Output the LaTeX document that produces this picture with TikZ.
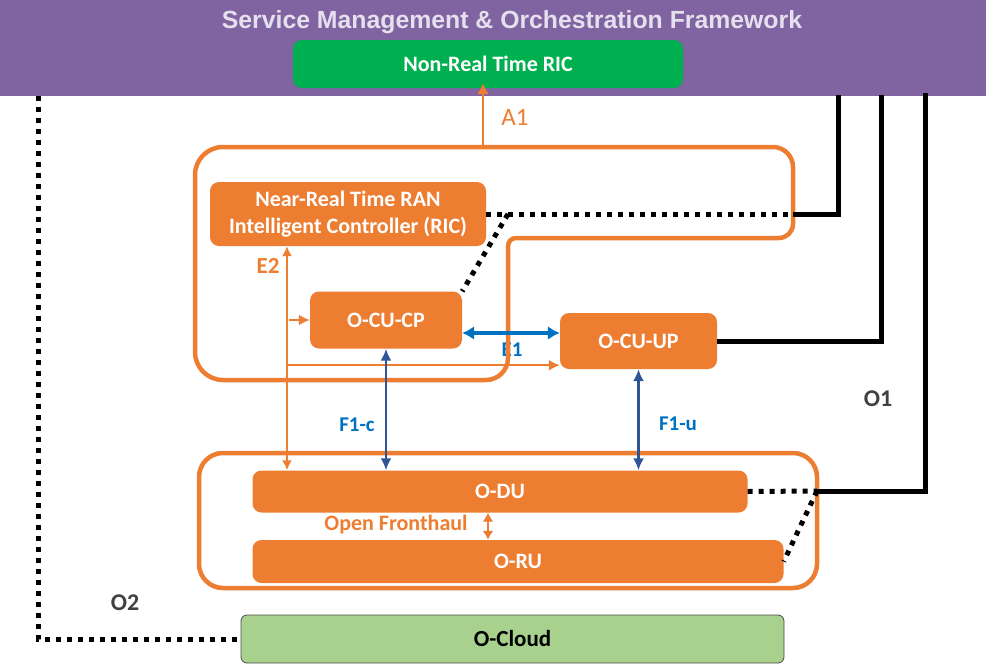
\documentclass[tikz,border=0pt]{standalone}
\usepackage{fontspec}
\setmainfont{Carlito}
\newfontfamily\titlefont{Liberation Sans}
\usetikzlibrary{arrows.meta,calc}

\definecolor{smopurple}{HTML}{8064A2}
\definecolor{titlelav}{HTML}{E6E0EE}
\definecolor{nrtgreen}{HTML}{00B050}
\definecolor{cloudgreen}{HTML}{A9D18E}
\definecolor{cloudedge}{HTML}{4A4A4A}
\definecolor{oran}{HTML}{ED7D31}
\definecolor{ifblue}{HTML}{0070C0}
\definecolor{fblue}{HTML}{2F5597}
\definecolor{ograytext}{HTML}{404040}

\begin{document}
\begin{tikzpicture}[x=1pt,y=-1pt,
  unit/.style={rounded corners=9pt, fill=oran, text=white, inner sep=0pt, align=center,
    font=\fontsize{22}{26.7}\selectfont\bfseries},
  group/.style={draw=oran, line width=4.5pt},
  olink/.style={draw=black, line width=5pt},
  odots/.style={draw=black, line width=5pt, dash pattern=on 5pt off 6pt},
  e2link/.style={draw=oran, line width=2.5pt, {Latex[length=10pt,width=10pt]}-{Latex[length=10pt,width=10pt]}},
  feed/.style={draw=oran, line width=2pt, -{Latex[length=11pt,width=11pt]}},
  e1link/.style={draw=ifblue, line width=4pt, {Latex[length=12pt,width=14pt]}-{Latex[length=12pt,width=14pt]}},
  f1link/.style={draw=fblue, line width=2.5pt, {Latex[length=12pt,width=11pt]}-{Latex[length=12pt,width=11pt]}},
  fhlink/.style={draw=oran, line width=2.5pt, {Latex[length=9pt,width=11pt]}-{Latex[length=9pt,width=11pt]}},
  a1link/.style={draw=oran, line width=2.5pt, -{Latex[length=11pt,width=12pt]}},
  olabel/.style={text=oran, font=\fontsize{23}{26}\selectfont\bfseries, inner sep=0pt},
  blabel/.style={text=ifblue, font=\fontsize{21}{24}\selectfont\bfseries, inner sep=0pt},
  glabel/.style={text=ograytext, font=\fontsize{24}{27}\selectfont\bfseries, inner sep=0pt}
]
\useasboundingbox (0,0) rectangle (986,664);

% SMO framework band
\fill[smopurple] (0,0) rectangle (986,96);
\node[anchor=base, text=titlelav, inner sep=0pt,
  font=\titlefont\bfseries\fontsize{24.8}{28}\selectfont] (smo) at (512,28)
  {Service Management \& Orchestration Framework};

% function blocks
\node[unit, fill=nrtgreen, minimum width=390pt, minimum height=48pt] (nonrt) at (488,64) {Non-Real Time RIC};
\node[unit, minimum width=276pt, minimum height=64pt] (ric) at (348,214) {Near-Real Time RAN\\Intelligent Controller (RIC)};
\node[unit, minimum width=152pt, minimum height=57pt] (cucp) at (386,320) {O-CU-CP};
\node[unit, minimum width=157pt, minimum height=56pt] (cuup) at (638.5,341) {O-CU-UP};
\node[unit, minimum width=495pt, minimum height=42pt] (odu) at (500,491.5) {O-DU};
\node[unit, minimum width=531pt, minimum height=43pt] (oru) at (518,561.5) {O-RU};
\node[unit, fill=cloudgreen, draw=cloudedge, line width=0.8pt, text=black, rounded corners=6pt,
  font=\fontsize{23}{26}\selectfont\bfseries,
  minimum width=543pt, minimum height=48pt] (ocloud) at (512.5,639) {O-Cloud};

% E1 label sits under the group outline
\node[blabel] (e1lbl) at (512,350) {E1};

% group outlines; each corner sits between two segments of the same radius
\draw[group] (195,264) [rounded corners=28pt] -- (195,147) -- (490,147)
  [rounded corners=20pt] -- (793,147) -- (793,190)
  [rounded corners=14pt] -- (793,238) -- (650,238)
  [rounded corners=8pt] -- (508,238) -- (508,300)
  [rounded corners=22pt] -- (508,380) -- (350,380)
  [rounded corners=28pt] -- (195,380) -- cycle;
\draw[group, rounded corners=24pt] (199,453) rectangle (817,588);

% helper coordinates
\coordinate (e2x) at (287,0);
\coordinate (fhx) at (488,0);
\coordinate (e1y) at (0,333);
\coordinate (a1) at (483,147);
\coordinate (upin) at ($(cuup.south west)+(0,-4)$);
\coordinate (kink) at (508,214);
\coordinate (ricgrp) at (793,214);
\coordinate (dugrp) at (817,491);
\coordinate (o1a) at (838,95);
\coordinate (o1b) at (881,95);
\coordinate (o1c) at (925,93);
\coordinate (o2) at (38,96);

% A1
\draw[a1link, shorten >=-5pt] (a1) -- (a1 |- nonrt.south);
\node[text=oran, font=\fontsize{25}{28}\selectfont, inner sep=0pt] (a1lbl) at (515,117) {A1};

% E2 and internal feeds
\draw[e2link] (ric.south -| e2x) -- (odu.north -| e2x);
\draw[feed] ($(cucp.west -| e2x)+(2,0)$) -- (cucp.west);
\draw[feed] (e2x |- upin) -- (upin);
\node[olabel] (e2lbl) at (268,266) {E2};

% E1
\draw[e1link] (cucp.east |- e1y) -- (cuup.west |- e1y);

% F1
\draw[f1link] (cucp.south) -- (cucp.south |- odu.north);
\draw[f1link] (cuup.south) -- (cuup.south |- odu.north);
\node[blabel] (f1c) at (357,425) {F1-c};
\node[blabel] (f1u) at (678,424) {F1-u};

% Open Fronthaul
\draw[fhlink] (odu.south -| fhx) -- (oru.north -| fhx);
\node[text=oran, font=\fontsize{22}{24}\selectfont\bfseries, inner sep=0pt] (fhlbl) at (396,525) {Open Fronthaul};

% O1
\draw[olink] (o1a) |- (ricgrp);
\draw[odots] (ric.east |- ricgrp) -- (ricgrp);
\draw[odots] (kink) -- (cucp.north east);
\draw[olink] (o1b) |- (cuup.east);
\draw[olink] (o1c) |- (dugrp);
\draw[odots] (odu.east) -- (dugrp);
\draw[odots] (dugrp) -- (oru.east);
\node[glabel] (o1lbl) at (878,399) {O1};

% O2
\draw[odots] (o2) |- (ocloud.west);
\node[glabel] (o2lbl) at (125,603) {O2};
\end{tikzpicture}
\end{document}
